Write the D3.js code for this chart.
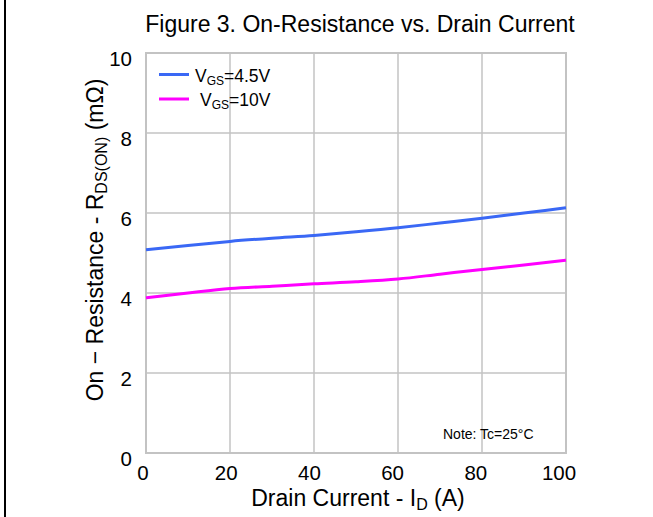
<!DOCTYPE html>
<html lang="en">
<head>
  <meta charset="UTF-8">
  <title>On-Resistance vs. Drain Current</title>
  <script src="https://cdn.jsdelivr.net/npm/d3@7"></script>
  <style>
    html, body { margin: 0; padding: 0; background: #fff; }
    svg text { font-family: "Liberation Sans", Arial, sans-serif; fill: #000; }
  </style>
</head>
<body>
<svg width="653" height="517"></svg>
<script>
  // drain current (A)
  var current = [0, 10, 20, 30, 40, 50, 60, 70, 80, 90, 100];
  // R_DS(ON) in mOhm
  var vgs45 = [5.08, 5.19, 5.29, 5.37, 5.44, 5.53, 5.63, 5.75, 5.87, 6.0, 6.13];
  var vgs10 = [3.88, 4.0, 4.11, 4.17, 4.23, 4.28, 4.35, 4.47, 4.59, 4.70, 4.82];
  var xTicks = [0, 20, 40, 60, 80, 100];
  var yTicks = [0, 2, 4, 6, 8, 10];

  var svg = d3.select("svg"),
      margin = { top: 53, right: 87, bottom: 64, left: 146 },
      width = 420,
      height = 400,
      g = svg.append("g").attr("transform", "translate(" + margin.left + "," + margin.top + ")");

  // left page border
  svg.append("line")
    .attr("x1", 5).attr("x2", 5).attr("y1", 0).attr("y2", 517)
    .attr("stroke", "#000").attr("stroke-width", 2);

  var x = d3.scaleLinear().domain([0, 100]).range([0, width]);
  var y = d3.scaleLinear().domain([0, 10]).range([height, 0]);

  // grid
  g.selectAll(".vgrid").data(xTicks).enter().append("line")
    .attr("x1", function (d) { return x(d); }).attr("x2", function (d) { return x(d); })
    .attr("y1", 0).attr("y2", height)
    .attr("stroke", "#c3c3c3").attr("stroke-width", 1.5);
  g.selectAll(".hgrid").data(yTicks).enter().append("line")
    .attr("y1", function (d) { return y(d); }).attr("y2", function (d) { return y(d); })
    .attr("x1", 0).attr("x2", width)
    .attr("stroke", "#c3c3c3").attr("stroke-width", 1.5);
  g.append("rect")
    .attr("width", width).attr("height", height)
    .attr("fill", "none").attr("stroke", "#c3c3c3").attr("stroke-width", 2);

  // tick labels
  g.selectAll(".xl").data(xTicks).enter().append("text")
    .attr("x", function (d) { return x(d) - 3 - d * 0.04; })
    .attr("y", height + 27)
    .attr("text-anchor", "middle")
    .attr("font-size", 20.5)
    .text(function (d) { return d; });
  g.selectAll(".yl").data(yTicks).enter().append("text")
    .attr("x", -14)
    .attr("y", function (d) { return y(d) + 12.5; })
    .attr("text-anchor", "end")
    .attr("font-size", 20.5)
    .text(function (d) { return d; });

  // series
  var line = d3.line()
    .x(function (d) { return x(d[0]); })
    .y(function (d) { return y(d[1]); })
    .curve(d3.curveMonotoneX);

  var series = [
    { name: "4.5V", values: vgs45, color: "#3a68f5" },
    { name: "10V", values: vgs10, color: "#ff00ff" }
  ];

  series.forEach(function (s) {
    g.append("path")
      .datum(current.map(function (c, i) { return [c, s.values[i]]; }))
      .attr("fill", "none")
      .attr("stroke", s.color)
      .attr("stroke-width", 3)
      .attr("d", line);
  });

  // legend
  var legend = g.selectAll(".legend").data(series).enter().append("g")
    .attr("transform", function (d, i) { return "translate(13," + (21.5 + i * 24.5) + ")"; });
  legend.append("line")
    .attr("x1", 0).attr("x2", 30)
    .attr("stroke", function (d) { return d.color; })
    .attr("stroke-width", 3);
  var lt = legend.append("text")
    .attr("x", function (d, i) { return i === 0 ? 36 : 41; })
    .attr("y", 7)
    .attr("font-size", 17.5);
  lt.append("tspan").text("V");
  lt.append("tspan").attr("font-size", 12).attr("dy", 3).text("GS");
  lt.append("tspan").attr("dy", -3).text(function (d) { return "=" + d.name; });

  // note
  g.append("text")
    .attr("x", 297).attr("y", 386)
    .attr("font-size", 14)
    .text("Note: Tc=25°C");

  // title
  svg.append("text")
    .attr("x", 360).attr("y", 32)
    .attr("text-anchor", "middle")
    .attr("font-size", 23)
    .text("Figure 3. On-Resistance vs. Drain Current");

  // x axis title
  var xt = svg.append("text")
    .attr("x", 358).attr("y", 506)
    .attr("text-anchor", "middle")
    .attr("font-size", 23);
  xt.append("tspan").text("Drain Current - I");
  xt.append("tspan").attr("font-size", 16).attr("dy", 4).text("D");
  xt.append("tspan").attr("dy", -4).text(" (A)");

  // y axis title
  var yt = svg.append("text")
    .attr("transform", "translate(103,240) rotate(-90)")
    .attr("text-anchor", "middle")
    .attr("font-size", 23);
  yt.append("tspan").text("On \u2212 Resistance - R");
  yt.append("tspan").attr("font-size", 16).attr("dy", 4).text("DS(ON)");
  yt.append("tspan").attr("dy", -4).text(" (m\u03A9)");
</script>
</body>
</html>
